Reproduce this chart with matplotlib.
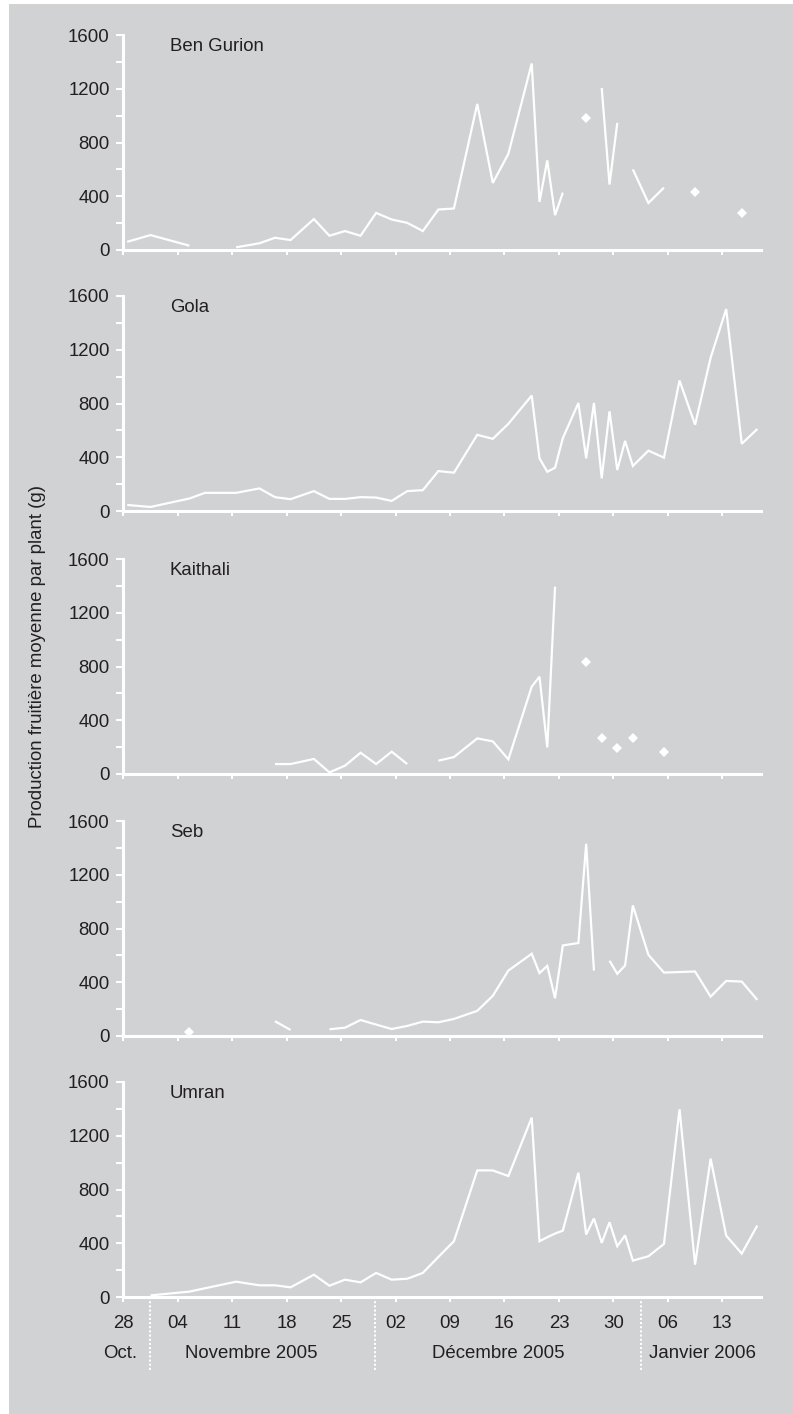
import matplotlib.pyplot as plt
import matplotlib.transforms as mtransforms
import matplotlib.dates as mdates
import numpy as np
import pandas as pd
from matplotlib.patches import Rectangle
from matplotlib.ticker import MultipleLocator

plt.rcParams["font.family"] = ["Liberation Sans", "DejaVu Sans"]

nan = np.nan

# Harvest dates (one reading per date, plotted at midday)
harvest_dates = [
    "2005-10-28", "2005-10-31", "2005-11-05", "2005-11-07", "2005-11-11", "2005-11-14",
    "2005-11-16", "2005-11-18", "2005-11-21", "2005-11-23", "2005-11-25", "2005-11-27",
    "2005-11-29", "2005-12-01", "2005-12-03", "2005-12-05", "2005-12-07", "2005-12-09",
    "2005-12-12", "2005-12-14", "2005-12-16", "2005-12-19", "2005-12-20", "2005-12-21",
    "2005-12-22", "2005-12-23", "2005-12-25", "2005-12-26", "2005-12-27", "2005-12-28",
    "2005-12-29", "2005-12-30", "2005-12-31", "2006-01-01", "2006-01-03", "2006-01-05",
    "2006-01-07", "2006-01-09", "2006-01-11", "2006-01-13", "2006-01-15", "2006-01-17",
]

# Mean fruit production per plant (g), nan = no harvest
ben_gurion = [61, 111, 32, nan, 20, 50, 91, 74, 230, 106, 141, 106, 276, 227, 202, 141, 301, 309,
              1087, 499, 716, 1388, 358, 667, 259, 427, nan, 983, nan, 1205, 487, 946, nan, 600,
              350, 464, nan, 432, nan, nan, 274, nan]
gola = [45, 30, 93, 135, 135, 168, 103, 88, 148, 90, 90, 103, 100, 75, 148, 155, 297, 285,
        567, 537, 649, 859, 392, 292, 322, 542, 804, 392, 804, 243, 742, 305, 522, 335,
        449, 397, 971, 642, 1141, 1503, 500, 610]
kaithali = [nan, nan, nan, nan, nan, nan, 74, 74, 112, 12, 62, 158, 74, 166, 74, nan, 99, 126,
            265, 243, 109, 650, 724, 198, 1394, nan, nan, 836, nan, 265, nan, 191, nan, 265,
            nan, 166, nan, nan, nan, nan, nan, nan]
seb = [nan, nan, 32, nan, nan, nan, 110, 45, nan, 50, 62, 119, 85, 52, 75, 107, 102, 127,
       187, 299, 487, 612, 468, 522, 281, 674, 692, 1430, 487, nan, 560, 463, 525, 972,
       604, 472, 476, 480, 293, 410, 405, 269]
umran = [nan, 12, 40, 65, 114, 87, 87, 72, 166, 84, 129, 109, 179, 129, 136, 179, 298, 415,
         942, 942, 900, 1335, 415, 445, 472, 494, 925, 465, 584, 403, 556, 378, 459, 271,
         303, 395, 1397, 241, 1029, 457, 323, 532]

cultivars = ["Ben Gurion", "Gola", "Kaithali", "Seb", "Umran"]
series = [ben_gurion, gola, kaithali, seb, umran]

month_labels = ["Oct.", "Novembre 2005", "Décembre 2005", "Janvier 2006"]
month_label_days = [-0.4, 16.4, 48.2, 74.4]
month_break_days = [3.4, 32.3, 66.5]

start = pd.Timestamp("2005-10-28")
end = start + pd.Timedelta(days=82)
x = pd.to_datetime(harvest_dates) + pd.Timedelta(hours=12)
week_ticks = pd.date_range(start, periods=12, freq="7D")

bg = "#d1d2d4"
ink = "#231f20"
fs = 13.4

W, H = 793, 1414
fig = plt.figure(figsize=(W / 100, H / 100), dpi=100, facecolor="white")
fig.patches.append(Rectangle((9 / W, 0), 1, 1 - 4 / H, transform=fig.transFigure,
                             facecolor=bg, edgecolor="none", zorder=-10))

zeros_px = [250, 511, 774, 1036, 1297]
panel_h = 215
left_px, right_px = 123.3, 761.2

axes = []
for i, (name, vals) in enumerate(zip(cultivars, series)):
    ax = fig.add_axes([left_px / W, 1 - zeros_px[i] / H, (right_px - left_px) / W, panel_h / H])
    ax.set_facecolor("none")
    vals = np.array(vals, dtype=float)

    ax.plot(x, vals, color="white", lw=1.6, solid_joinstyle="miter", solid_capstyle="butt")

    # single readings with no neighbour are shown as diamonds
    ok = ~np.isnan(vals)
    prev_ok = np.r_[False, ok[:-1]]
    next_ok = np.r_[ok[1:], False]
    lone = ok & ~prev_ok & ~next_ok
    ax.plot(x[lone], vals[lone], "D", ms=5.2, color="white", mew=0, clip_on=False)

    ax.set_xlim(start, end)
    ax.set_ylim(0, 1600)
    ax.yaxis.set_major_locator(MultipleLocator(400))
    ax.yaxis.set_minor_locator(MultipleLocator(200))
    ax.set_xticks(week_ticks)
    ax.xaxis.set_major_formatter(mdates.DateFormatter("%d"))

    for side in ["top", "right"]:
        ax.spines[side].set_visible(False)
    for side in ["left", "bottom"]:
        ax.spines[side].set_color("white")
        ax.spines[side].set_linewidth(2.2)

    ax.tick_params(axis="y", which="both", direction="out", length=4.8, width=1.5,
                   color="white", labelcolor=ink, labelsize=fs, pad=5)
    ax.tick_params(axis="x", which="both", direction="out", length=3.5, width=1.5,
                   color="white", labelcolor=ink, labelsize=fs, pad=9.5)
    if i < len(cultivars) - 1:
        ax.tick_params(axis="x", labelbottom=False)

    ax.text(0.073, 0.925, name, transform=ax.transAxes, fontsize=fs, color=ink, va="baseline")
    axes.append(ax)

# Month captions and dotted separators under the last panel
ax = axes[-1]
blend = mtransforms.blended_transform_factory(ax.transData, ax.transAxes)
for label, d in zip(month_labels, month_label_days):
    ax.text(mdates.date2num(start + pd.Timedelta(days=d)), -0.282, label, transform=blend,
            ha="center", va="baseline", fontsize=fs, color=ink)
for d in month_break_days:
    xd = mdates.date2num(start + pd.Timedelta(days=d))
    ax.plot([xd, xd], [0, -0.34], transform=blend, color="white", lw=1.5,
            ls=(0, (1, 1)), clip_on=False)
ax.set_xlim(start, end)

fig.text(38 / W, 1 - 657 / H, "Production fruitière moyenne par plant (g)", rotation=90,
         ha="center", va="center", fontsize=fs, color=ink)

fig.savefig("out.png", dpi=100)
